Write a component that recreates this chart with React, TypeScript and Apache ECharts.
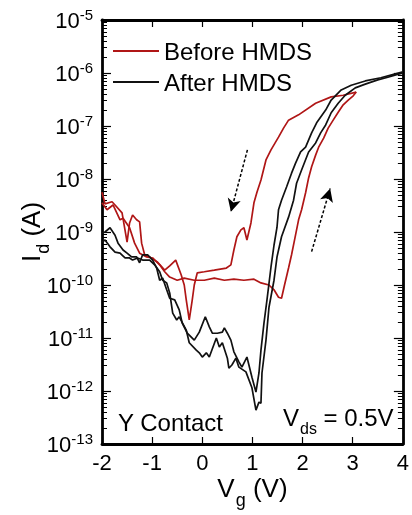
import React, { useEffect, useRef } from "react";
import * as echarts from "echarts";

// ---------- axes ----------
const X_MIN = -2;
const X_MAX = 4;
const X_INTERVAL = 1;
const Y_MIN = 1e-13;
const Y_MAX = 1e-5;
const legendNames = ["Before HMDS", "After HMDS"];

// ---------- Before HMDS (red) : Vg in V, log10(Id / A) ----------
// forward sweep (-2 V -> 3 V)
const beforeFwdVg = [-2.0, -1.9, -1.78, -1.64, -1.58, -1.45, -1.35, -1.25, -1.11, -0.99, -0.85, -0.75, -0.65, -0.5, -0.36, -0.16, 0.04, 0.24, 0.44, 0.63, 0.83, 1.03, 1.17, 1.33, 1.43, 1.52, 1.58, 1.64, 1.72, 1.78, 1.84, 1.92, 1.98, 2.06, 2.12, 2.18, 2.26, 2.32, 2.42, 2.51, 2.61, 2.71, 2.81, 2.91, 3.01, 3.07];
const beforeFwdLogId = [-8.45, -8.58, -8.49, -8.77, -8.74, -8.92, -9.21, -9.4, -9.47, -9.49, -9.62, -9.75, -9.85, -9.91, -9.87, -9.91, -9.91, -9.87, -9.91, -9.89, -9.91, -9.89, -9.96, -10.0, -10.09, -10.23, -10.25, -10.0, -9.68, -9.43, -9.15, -8.77, -8.58, -8.26, -7.98, -7.77, -7.55, -7.4, -7.23, -7.04, -6.89, -6.74, -6.6, -6.51, -6.43, -6.36];
// reverse sweep (3 V -> -2 V)
const beforeRevVg = [3.07, 2.81, 2.57, 2.26, 1.92, 1.72, 1.62, 1.52, 1.37, 1.27, 1.17, 1.09, 1.03, 0.97, 0.89, 0.83, 0.77, 0.69, 0.63, 0.57, 0.48, 0.24, 0.04, -0.1, -0.16, -0.2, -0.26, -0.32, -0.36, -0.42, -0.53, -0.65, -0.75, -0.89, -1.05, -1.15, -1.21, -1.25, -1.31, -1.39, -1.45, -1.5, -1.6, -1.74, -1.8, -1.94, -2.0];
const beforeRevLogId = [-6.36, -6.42, -6.45, -6.57, -6.79, -6.89, -7.04, -7.21, -7.45, -7.64, -8.02, -8.25, -8.45, -8.83, -9.15, -8.92, -8.96, -9.09, -9.34, -9.62, -9.68, -9.72, -9.75, -9.77, -10.0, -10.28, -10.66, -10.28, -10.0, -9.81, -9.53, -9.64, -9.72, -9.57, -9.47, -9.43, -9.21, -8.81, -8.77, -8.68, -8.83, -9.19, -8.64, -8.49, -8.43, -8.47, -8.25];

// ---------- After HMDS (black) ----------
// sweep A (-2 V -> 4 V)
const afterAVg = [-2.0, -1.94, -1.84, -1.74, -1.64, -1.54, -1.45, -1.39, -1.29, -1.19, -1.05, -0.95, -0.85, -0.79, -0.71, -0.65, -0.59, -0.51, -0.46, -0.32, -0.26, -0.12, -0.06, 0.0, 0.08, 0.14, 0.28, 0.34, 0.4, 0.5, 0.53, 0.59, 0.67, 0.73, 0.87, 0.99, 1.07, 1.13, 1.17, 1.19, 1.27, 1.33, 1.43, 1.49, 1.58, 1.72, 1.82, 1.88, 1.98, 2.12, 2.26, 2.36, 2.46, 2.57, 2.71, 2.85, 3.05, 3.25, 3.5, 3.7, 3.84, 4.0];
const afterALogId = [-9.19, -9.15, -9.28, -9.38, -9.4, -9.49, -9.49, -9.53, -9.49, -9.53, -9.53, -9.62, -9.75, -9.91, -9.96, -10.15, -10.53, -10.66, -10.6, -10.85, -11.09, -11.23, -11.28, -11.36, -11.28, -11.36, -11.0, -11.17, -11.09, -11.38, -11.57, -11.51, -11.38, -11.55, -11.64, -11.94, -12.36, -12.21, -12.23, -11.66, -11.04, -10.42, -9.91, -9.47, -9.09, -8.72, -8.4, -8.08, -7.83, -7.49, -7.32, -7.13, -6.98, -6.75, -6.57, -6.42, -6.28, -6.21, -6.13, -6.08, -6.04, -6.0];
// sweep B (listed from -2 V to 4 V)
const afterBVg = [-2.0, -1.94, -1.84, -1.74, -1.68, -1.58, -1.5, -1.41, -1.31, -1.25, -1.19, -1.09, -0.99, -0.91, -0.85, -0.79, -0.71, -0.65, -0.55, -0.46, -0.4, -0.3, -0.16, -0.06, 0.06, 0.14, 0.2, 0.3, 0.4, 0.44, 0.5, 0.57, 0.63, 0.73, 0.79, 0.89, 0.99, 1.07, 1.13, 1.17, 1.23, 1.29, 1.37, 1.43, 1.49, 1.52, 1.58, 1.68, 1.78, 1.86, 1.96, 2.06, 2.18, 2.28, 2.46, 2.57, 2.77, 2.97, 3.25, 3.56, 3.76, 4.0];
const afterBLogId = [-9.02, -9.0, -8.92, -9.06, -9.21, -9.34, -9.4, -9.47, -9.47, -9.58, -9.43, -9.43, -9.53, -9.68, -9.91, -9.87, -10.09, -10.25, -10.28, -10.47, -10.72, -10.91, -11.04, -10.89, -10.6, -10.79, -10.91, -10.91, -10.89, -10.81, -10.91, -11.04, -11.26, -11.45, -11.55, -11.36, -11.74, -12.02, -11.66, -11.23, -10.72, -10.28, -9.66, -9.25, -8.91, -8.58, -8.4, -8.15, -7.89, -7.7, -7.49, -7.4, -7.13, -6.94, -6.7, -6.51, -6.32, -6.23, -6.15, -6.09, -6.04, -5.98];

// ---------- sweep-direction arrows (Vg, log10 Id) : [start, tip] ----------
const arrowDownVg = [0.9, 0.57];
const arrowDownLogId = [-7.45, -8.62];
const arrowUpVg = [2.18, 2.55];
const arrowUpLogId = [-9.37, -8.18];

const FONT = "Liberation Sans";
const RED = "#b01616";
const BLACK = "#111111";

export default function App() {
  const ref = useRef<HTMLDivElement>(null);

  useEffect(() => {
    const el = ref.current;
    if (!el) return;
    const chart = echarts.init(el, null, { renderer: "svg" });

    const pairs = (vg: number[], logId: number[]) =>
      vg.map((v, i) => [v, Math.pow(10, logId[i])]);

    const line = (name: string, color: string, vg: number[], logId: number[], extra: any = {}) => ({
      type: "line",
      name,
      data: pairs(vg, logId),
      symbol: "none",
      showSymbol: false,
      lineStyle: { color, width: 1.7 },
      itemStyle: { color },
      z: 3,
      ...extra,
    });

    const arrow = (vg: number[], logId: number[]) => [
      { coord: [vg[0], Math.pow(10, logId[0])] },
      { coord: [vg[1], Math.pow(10, logId[1])] },
    ];

    const axisLineStyle = { color: "#000", width: 2.8 };
    const nameRich = {
      m: { fontSize: 26, fontFamily: FONT, color: "#000", lineHeight: 28, verticalAlign: "top" },
      sub: { fontSize: 18, fontFamily: FONT, color: "#000", lineHeight: 18, verticalAlign: "top", padding: [16, 0, 0, 1] },
    };
    const yMinorTick = { show: true, splitNumber: 9, length: 5, lineStyle: { color: "#000", width: 1 } };

    chart.setOption({
      animation: false,
      grid: { left: 102, top: 20, width: 303, height: 424, containLabel: false },
      legend: {
        data: legendNames,
        left: 108,
        top: 34,
        orient: "vertical",
        icon: "rect",
        itemWidth: 46,
        itemHeight: 2,
        itemGap: 7,
        selectedMode: false,
        textStyle: { fontSize: 24, fontFamily: FONT, color: "#000" },
      },
      xAxis: [
        {
          type: "value",
          min: X_MIN,
          max: X_MAX,
          interval: X_INTERVAL,
          position: "bottom",
          axisLine: { show: true, onZero: false, lineStyle: axisLineStyle },
          axisTick: { show: true, inside: true, length: 7, lineStyle: { color: "#000", width: 1.2 } },
          axisLabel: { fontSize: 22, fontFamily: FONT, color: "#000", margin: 7 },
          splitLine: { show: false },
          name: "{m|V}{sub|g}{m| (V)}",
          nameLocation: "middle",
          nameGap: 31,
          nameMoveOverlap: false,
          nameTextStyle: { rich: nameRich },
        },
        {
          type: "value",
          min: X_MIN,
          max: X_MAX,
          interval: X_INTERVAL,
          position: "top",
          axisLine: { show: true, onZero: false, lineStyle: axisLineStyle },
          axisTick: { show: true, inside: true, length: 7, lineStyle: { color: "#000", width: 1.2 } },
          axisLabel: { show: false },
          splitLine: { show: false },
        },
      ],
      yAxis: [
        {
          type: "log",
          logBase: 10,
          min: Y_MIN,
          max: Y_MAX,
          splitNumber: 8,
          position: "left",
          axisLine: { show: true, onZero: false, lineStyle: axisLineStyle },
          axisTick: { show: true, inside: true, length: 9, lineStyle: { color: "#000", width: 1.2 } },
          minorTick: yMinorTick,
          axisLabel: {
            margin: 9,
            formatter: (v: number) => `{b|10}{s|${Math.round(Math.log10(v))}}`,
            rich: {
              b: { fontSize: 22, fontFamily: FONT, color: "#000", lineHeight: 26 },
              s: { fontSize: 15, fontFamily: FONT, color: "#000", lineHeight: 15, verticalAlign: "top" },
            },
          },
          splitLine: { show: false },
          name: "{m|I}{sub|d}{m| (A)}",
          nameLocation: "middle",
          nameGap: 56,
          nameMoveOverlap: false,
          nameTextStyle: { rich: nameRich },
        },
        {
          type: "log",
          logBase: 10,
          min: Y_MIN,
          max: Y_MAX,
          splitNumber: 8,
          position: "right",
          axisLine: { show: true, onZero: false, lineStyle: axisLineStyle },
          axisTick: { show: true, inside: true, length: 9, lineStyle: { color: "#000", width: 1.2 } },
          minorTick: yMinorTick,
          axisLabel: { show: false },
          splitLine: { show: false },
        },
      ],
      series: [
        line(legendNames[0], RED, beforeFwdVg, beforeFwdLogId),
        line(legendNames[0], RED, beforeRevVg, beforeRevLogId),
        line(legendNames[1], BLACK, afterAVg, afterALogId, {
          markLine: {
            silent: true,
            symbol: ["none", "arrow"],
            symbolSize: [10, 13],
            label: { show: false },
            lineStyle: { color: "#000", width: 1.5, type: [3, 2] },
            itemStyle: { color: "#000" },
            data: [arrow(arrowDownVg, arrowDownLogId), arrow(arrowUpVg, arrowUpLogId)],
          },
        }),
        line(legendNames[1], BLACK, afterBVg, afterBLogId),
      ],
      graphic: [
        {
          type: "text",
          left: 118,
          top: 410,
          style: { text: "Y Contact", fontSize: 24, fontFamily: FONT, fill: "#000" },
        },
        {
          type: "text",
          left: 283,
          top: 405,
          style: {
            text: "{v|V}{s|ds}{v| = 0.5V}",
            fill: "#000",
            rich: {
              v: { fontSize: 24, fontFamily: FONT, fill: "#000", lineHeight: 26, verticalAlign: "top" },
              s: { fontSize: 16, fontFamily: FONT, fill: "#000", lineHeight: 16, verticalAlign: "top", padding: [15, 0, 0, 1] },
            },
          },
        },
      ],
    });

    return () => chart.dispose();
  }, []);

  return <div ref={ref} style={{ position: "fixed", left: 0, top: 0, width: 412, height: 515 }} />;
}
